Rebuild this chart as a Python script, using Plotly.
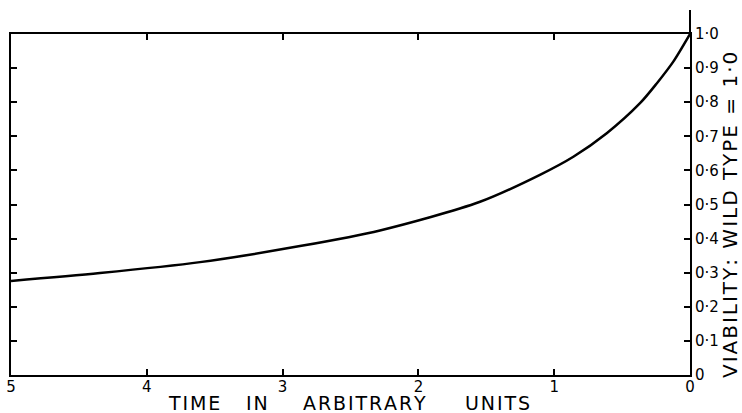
import plotly.graph_objects as go

time_units = [5.0, 4.345, 3.608, 2.872, 2.283, 1.546, 1.105, 0.859, 0.613, 0.368, 0.245, 0.123, 0.0]
viability = [0.276, 0.299, 0.331, 0.378, 0.424, 0.508, 0.587, 0.640, 0.709, 0.797, 0.855, 0.919, 1.0]

x_tickvals = [5, 4, 3, 2, 1, 0]
x_ticktext = ["5", "4", "3", "2", "1", "0"]
y_tickvals = [0, 0.1, 0.2, 0.3, 0.4, 0.5, 0.6, 0.7, 0.8, 0.9, 1.0]
y_ticktext = ["0", "0·1", "0·2", "0·3", "0·4", "0·5", "0·6", "0·7", "0·8", "0·9", "1·0"]

x_title_words = ["TIME", "IN", "ARBITRARY", "UNITS"]
y_title = "VIABILITY: WILD TYPE = 1·0"

FONT = "DejaVu Sans"
L, R, T, B = 11, 52, 34, 38
W, H = 742, 413
PW, PH = W - L - R, H - T - B


def px_x(px):
    return (px - L) / PW


def px_y(py):
    return (H - B - py) / PH


def spaced(word, sep="\u200a"):
    return sep.join(word)


fig = go.Figure()
fig.add_trace(go.Scatter(x=time_units, y=viability, mode="lines",
                         line=dict(color="black", width=2.5, shape="spline", smoothing=0.8),
                         showlegend=False, hoverinfo="skip"))

word_centers = [194, 257, 364, 497]
annotations = [
    dict(text=spaced(w), xref="paper", yref="paper", x=px_x(cx), y=px_y(403),
         xanchor="center", yanchor="middle", showarrow=False, font=dict(size=19, family=FONT))
    for w, cx in zip(x_title_words, word_centers)
]
annotations.append(
    dict(text=spaced(y_title, "\u200a"), xref="paper", yref="paper",
         x=px_x(730), y=px_y(215), xanchor="center", yanchor="middle",
         textangle=-90, showarrow=False, font=dict(size=20, family=FONT)))

fig.update_layout(
    width=W, height=H,
    margin=dict(l=L, r=R, t=T, b=B, autoexpand=False),
    paper_bgcolor="white", plot_bgcolor="white",
    font=dict(family=FONT, color="black", size=15),
    xaxis=dict(range=[5, 0], tickvals=x_tickvals, ticktext=x_ticktext, automargin=False,
               showgrid=False, zeroline=False, showline=True, linecolor="black", linewidth=2,
               mirror="ticks", ticks="inside", ticklen=6, tickwidth=1.5, tickcolor="black",
               tickfont=dict(size=15), ticklabelstandoff=-3),
    yaxis=dict(range=[0, 1.0], side="right", tickvals=y_tickvals, ticktext=y_ticktext, automargin=False,
               showgrid=False, zeroline=False, showline=True, linecolor="black", linewidth=2,
               mirror="ticks", ticks="inside", ticklen=6, tickwidth=1.5, tickcolor="black",
               tickfont=dict(size=15)),
    shapes=[dict(type="line", xref="paper", yref="paper", x0=1, x1=1, y0=1, y1=px_y(10),
                 line=dict(color="black", width=2))],
    annotations=annotations,
)

fig.write_html("out.html", config={"displayModeBar": False},
               post_script="document.body.style.margin='0';document.body.style.overflow='hidden';")
